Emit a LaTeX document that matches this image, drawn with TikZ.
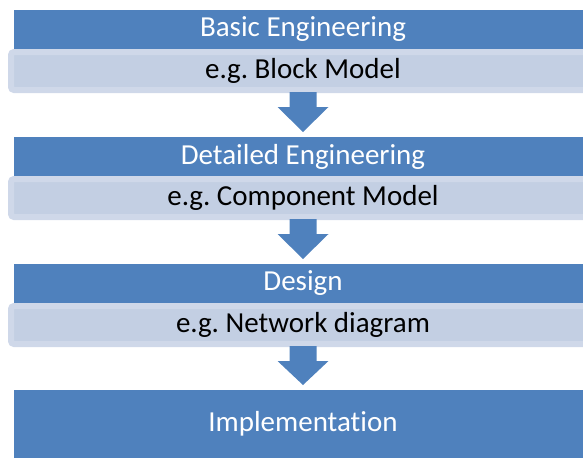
\documentclass[tikz,border=0pt]{standalone}
\usepackage{fontspec}
\setmainfont[Ligatures=NoCommon]{Carlito}
\usetikzlibrary{calc}
\definecolor{stageblue}{HTML}{4F81BD}
\definecolor{notefill}{HTML}{C3CFE3}
\definecolor{noteedge}{HTML}{CFD8E9}
\definecolor{noteink}{HTML}{000000}
\frenchspacing

\begin{document}
\begin{tikzpicture}[
  x=1pt,y=-1pt,
  every node/.style={font=\fontsize{29}{34}\selectfont},
  stage/.style={fill=stageblue,text=white,minimum width=579pt,
    minimum height=39pt,inner sep=0pt,outer sep=0pt},
  note/.style={draw=noteedge,fill=notefill,text=noteink,line width=6pt,
    rounded corners=3pt,minimum width=584pt,minimum height=38pt,inner sep=0pt},
  flow/.style={fill=stageblue}
]
\clip (0,0) rectangle (583,461);

\node[stage] (basic) at (303,29.5) {Basic Engineering};
\node[note] (basicex) at (303,71) {e.g. Block Model};

\node[stage] (detail) at (303,156.5) {Detailed Engineering};
\node[note] (detailex) at (303,198) {e.g. Component Model};

\node[stage] (design) at (303,283.5) {Design};
\node[note] (designex) at (303,325) {e.g. Network diagram};

\node[stage,minimum height=68pt] (impl) at (303,424) {Implementation};

% Block arrows between the stages.
\foreach \a/\b in {basicex/detail,detailex/design,designex/impl}
  \fill[flow] ($(\a.south)+(-13.5,-1)$) -- ++(27,0) -- ++(0,15)
    -- ++(12,0) -- ($(\b.north)+(0,-5)$) -- ($(\a.south)+(-25.5,14)$)
    -- ++(12,0) -- cycle;

\end{tikzpicture}
\end{document}
